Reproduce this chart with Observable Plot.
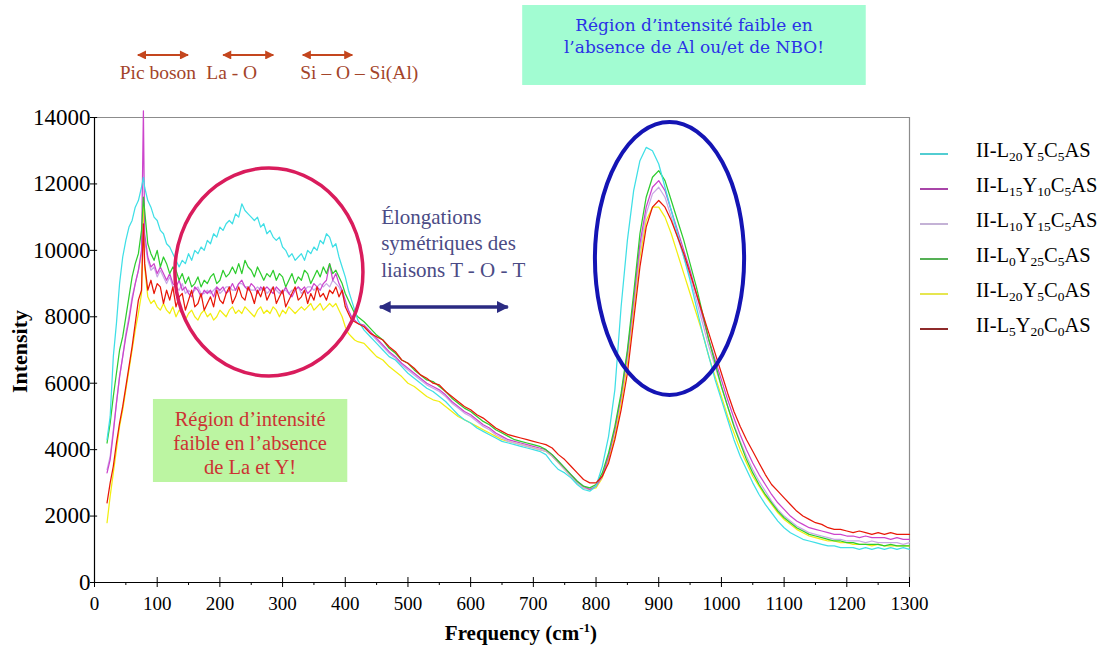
<!DOCTYPE html>
<html><head><meta charset="utf-8">
<script src="https://cdn.jsdelivr.net/npm/d3@7"></script>
<script src="https://cdn.jsdelivr.net/npm/@observablehq/plot@0.6"></script>
<style>
body{margin:0;background:#fff;}
#chart{position:relative;width:1102px;height:646px;overflow:hidden;}
#chart svg text{font-family:"Liberation Serif","Times New Roman",Times,serif;}
#chart svg text.slab{font-family:"DejaVu Serif",serif !important;}
</style></head><body><div id="chart"></div>
<script>
// ---- sampling grid (cm-1) ----
const freqLow = [20,25,30,35,40,45,50,55,60,65,70,75,78,
80,85,90,95,100,105,110,115,120,125,130,135,140,145,150,155,160,165,170,175,180,185,190,195,200,205,210,215,220,225,230,235,240,245,250,255,260,265,270,275,280,285,290,295,300,305,310,315,320,325,330,335,340,345,350,355,360,365,370,375,380,385,390,395,400,405,410,415,420];
const freqHigh = [430,440,450,460,470,480,490,500,510,520,530,540,550,560,570,580,590,600,610,620,630,640,650,660,670,680,690,700,710,720,730,740,750,760,770,780,790,800,810,820,830,840,850,860,870,880,890,900,910,920,930,940,950,960,970,980,990,1000,1010,1020,1030,1040,1050,1060,1070,1080,1090,1100,1110,1120,1130,1140,1150,1160,1170,1180,1190,1200,1210,1220,1230,1240,1250,1260,1270,1280,1290,1300];

// ---- II-L20Y5C5AS (cyan) ----
const cyanLow = [4300,5000,6800,7800,9000,9800,10300,10700,10900,11300,11500,11900,12200,
11900,11500,11300,11000,10900,10600,10500,10200,10100,9900,
9700,9500,9700,9600,9900,9700,10000,9900,10100,10000,
10300,10200,10500,10400,10700,10600,10800,10900,10800,11100,
11000,11400,11200,11100,11000,10900,11000,10700,10800,10500,
10600,10400,10300,10400,10100,10000,9800,9900,9700,9800,
9900,9700,10000,9900,10100,10000,10300,10200,10500,10400,
10100,10200,9800,9500,9200,8800,8500,8200,7900];
const cyanHigh = [7600,7400,7200,7000,6800,6700,6500,6300,6150,6000,
5850,5750,5600,5450,5250,5050,4900,4800,4650,4550,
4450,4350,4250,4200,4150,4100,4050,4000,3950,3850,
3600,3400,3300,3150,2950,2800,2750,2900,3500,4400,
5800,8300,10300,11800,12700,13100,13000,12600,11900,11200,
10500,9800,9100,8300,7500,6800,6100,5500,4900,4300,
3800,3400,3000,2650,2350,2100,1850,1650,1500,1400,
1300,1250,1200,1150,1100,1100,1050,1050,1050,1000,
1050,1000,1050,1000,1050,1000,1050,1000];

// ---- II-L15Y10C5AS (magenta) ----
const magentaLow = [3300,3700,4500,5400,6200,6800,7400,7900,8500,9000,9400,10000,14200,
10500,9800,9500,9600,9300,9500,9300,9100,9300,9000,
8900,9100,8800,8900,8700,8600,8900,8800,8600,8800,
8700,8800,8600,8900,8800,8900,8700,8800,9000,8800,
9000,9100,8900,8800,9000,8900,8700,8900,8800,8900,
8800,8700,8900,8800,8700,8900,8700,8600,8800,8900,
8800,8900,8700,8800,9000,8900,8800,9000,9100,9600,
9100,9300,9000,8800,8500,8200,8000,7900,7800];
const magentaHigh = [7750,7550,7350,7150,6950,6800,6600,6450,6300,6150,
6000,5900,5800,5650,5450,5300,5150,5050,4900,4750,
4650,4500,4400,4300,4250,4200,4150,4100,4050,4000,
3850,3650,3450,3250,3050,2900,2800,2900,3200,3800,
4600,5600,6900,8500,10200,11300,11900,12100,11800,11200,
10600,10000,9400,8700,8000,7300,6700,6100,5500,4950,
4450,4000,3600,3250,2950,2650,2400,2200,2000,1850,
1750,1650,1600,1550,1500,1450,1450,1400,1400,1350,
1400,1350,1350,1350,1300,1350,1300,1300];

// ---- II-L10Y15C5AS (lavender) ----
const lavenderLow = [3400,3800,4600,5400,6200,6800,7500,8000,8600,9000,9400,9900,10800,
10300,9700,9400,9500,9200,9400,9200,9000,9200,8900,
8900,8800,9000,8700,8800,8700,8800,8900,8700,8700,
8800,8700,8800,8900,8700,8800,8900,8900,8800,8800,
9000,9000,8900,8900,8800,8800,8900,8800,8900,8700,
8800,8900,8800,8700,8800,8800,8700,8800,8800,8900,
8700,8800,8900,8900,8800,8900,9000,8900,9000,8900,
9100,9000,8900,8700,8400,8200,8000,7900,7800];
const lavenderHigh = [7700,7500,7300,7100,6900,6750,6550,6400,6250,6100,
5950,5850,5750,5600,5400,5250,5100,5000,4850,4700,
4600,4450,4350,4250,4200,4150,4100,4050,4000,3950,
3800,3600,3400,3200,3000,2850,2800,2900,3200,3800,
4600,5600,6800,8400,10000,11100,11700,11900,11600,11000,
10400,9800,9200,8500,7800,7100,6500,5900,5300,4750,
4250,3800,3400,3050,2750,2450,2200,2000,1850,1700,
1600,1500,1450,1400,1350,1300,1300,1250,1250,1250,
1200,1250,1200,1200,1200,1200,1150,1200];

// ---- II-L0Y25C5AS (green) ----
const greenLow = [4200,4800,5600,6300,7000,7400,8000,8600,9200,9600,9900,10600,11600,
11200,10200,9900,9700,10000,9500,9800,9600,9300,9500,
9400,9100,9300,9000,9200,8900,9000,9200,8900,9100,
9000,9200,9300,9000,9100,9400,9200,9300,9500,9300,
9600,9300,9700,9500,9400,9200,9500,9300,9100,9300,
9200,9400,9100,9300,9200,8900,9100,9300,9000,9200,
9100,9400,9300,9000,9200,9400,9200,9500,9300,9600,
9300,9400,9200,9000,8700,8500,8300,8100,8000];
const greenHigh = [7850,7650,7450,7300,7050,6900,6700,6600,6400,6250,
6100,6050,5900,5750,5550,5400,5250,5150,5000,4850,
4750,4600,4500,4400,4300,4250,4200,4150,4100,4000,
3850,3650,3450,3250,3050,2900,2850,2950,3300,3900,
4700,5700,7000,8700,10500,11600,12200,12400,12100,11500,
10900,10300,9600,8900,8100,7300,6600,5900,5300,4700,
4200,3700,3300,2950,2650,2400,2150,1950,1800,1650,
1550,1450,1400,1350,1300,1250,1250,1200,1200,1150,
1150,1150,1150,1100,1150,1100,1100,1100];

// ---- II-L20Y5C0AS (yellow) ----
const yellowLow = [1800,2600,3300,4000,4700,5200,5800,6400,7000,7600,8100,8700,11400,
9500,8600,8400,8500,8300,8200,8400,8200,8100,8300,
8000,8200,8100,7900,8100,8200,8000,7900,8100,8200,
8000,8100,7900,8000,8200,8100,8000,8200,8300,8100,
8200,8100,8300,8200,8100,8000,8200,8300,8100,8200,
8100,8300,8200,8000,8200,8100,8300,8200,8100,8200,
8300,8200,8300,8400,8200,8300,8400,8200,8300,8400,
8300,8400,8200,8000,7700,7500,7400,7300,7250];
const yellowHigh = [7200,7000,6800,6700,6500,6350,6200,6000,5900,5750,
5600,5500,5450,5300,5150,5000,4900,4800,4700,4600,
4500,4400,4300,4250,4200,4150,4100,4050,4000,3950,
3800,3600,3400,3200,3000,2850,2800,2850,3150,3700,
4400,5400,6600,8200,9800,10900,11300,11300,11000,10500,
9900,9300,8700,8100,7500,6800,6200,5600,5000,4500,
4000,3600,3200,2900,2600,2350,2100,1900,1750,1600,
1500,1400,1350,1300,1250,1250,1200,1200,1150,1150,
1150,1100,1150,1100,1100,1100,1100,1100];

// ---- II-L5Y20C0AS (red) ----
const redLow = [2400,3000,3500,4200,4800,5300,5900,6500,7100,7800,8500,8800,10800,
9600,8800,9100,8700,9000,8900,8400,8800,8500,8900,
8300,8600,8700,8200,8500,8800,8300,8400,8700,8200,
8400,8600,8300,8800,8500,8400,8700,8900,8400,8600,
8900,8600,8500,8900,8700,8400,8800,8600,8900,8500,
8700,8900,8400,8600,8800,8300,8500,8700,8900,8500,
8600,8800,8400,8700,8500,8900,8600,8700,8500,8800,
8700,8900,8600,8800,8300,8100,7900,7850,7800];
const redHigh = [7700,7500,7400,7300,7100,6950,6700,6600,6450,6250,
6150,6000,5950,5750,5600,5450,5300,5200,5050,4950,
4800,4650,4550,4450,4400,4350,4300,4250,4200,4150,
4050,3850,3700,3500,3300,3100,3000,3000,3200,3600,
4300,5200,6300,7900,9500,10700,11300,11500,11300,10900,
10400,9900,9300,8700,8100,7500,6900,6300,5700,5150,
4700,4300,3950,3600,3250,2950,2750,2550,2350,2150,
2000,1900,1800,1750,1650,1600,1600,1550,1500,1550,
1500,1450,1500,1450,1500,1450,1450,1450];

// ---- ticks ----
const yTicks = [0,2000,4000,6000,8000,10000,12000,14000];
const xTicks = [0,100,200,300,400,500,600,700,800,900,1000,1100,1200,1300];
const xMinor = [50,150,250,350,450,550,650,750,850,950,1050,1150,1250];

// ---- legend (label parts: even = normal, odd = subscript) ----
const legendNames = ["cyan","magenta","lavender","green","yellow","red"];
const legendParts = [
  ["II-L","20","Y","5","C","5","AS"],
  ["II-L","15","Y","10","C","5","AS"],
  ["II-L","10","Y","15","C","5","AS"],
  ["II-L","0","Y","25","C","5","AS"],
  ["II-L","20","Y","5","C","0","AS"],
  ["II-L","5","Y","20","C","0","AS"]
];
const colors = {cyan:"#3fdfe6", magenta:"#cc44cc", lavender:"#c9a9e6", green:"#2ecc2e", yellow:"#f2ee10", red:"#e81808"};
const legendColors = {cyan:"#52cdd2", magenta:"#a845a8", lavender:"#c4b2d6", green:"#55b055", yellow:"#e6e650", red:"#8e2a2a"};
const drawOrder = ["yellow","lavender","magenta","green","cyan","red"];

const dataLow = {cyan:cyanLow, magenta:magentaLow, lavender:lavenderLow, green:greenLow, yellow:yellowLow, red:redLow};
const dataHigh = {cyan:cyanHigh, magenta:magentaHigh, lavender:lavenderHigh, green:greenHigh, yellow:yellowHigh, red:redHigh};

function table(name){
  const rows = [];
  freqLow.forEach((f,i)=>{ if (dataLow[name][i] != null) rows.push({f, v:dataLow[name][i]}); });
  freqHigh.forEach((f,i)=>{ if (dataHigh[name][i] != null) rows.push({f, v:dataHigh[name][i]}); });
  return rows;
}

const serif = "Liberation Serif, Times New Roman, Times, serif";
const W = 1102, H = 646;

const plot = Plot.plot({
  width: W, height: H,
  marginLeft: 94, marginRight: 193, marginTop: 117, marginBottom: 64,
  x: {domain:[0,1300], label:null},
  y: {domain:[0,14000], label:null},
  style: {fontFamily: serif, background:"#fff", color:"#000", overflow:"visible"},
  marks: [
    Plot.ruleY([14000], {stroke:"#8c8c8c", strokeWidth:1.2}),
    Plot.ruleX([1300], {stroke:"#8c8c8c", strokeWidth:1.2}),
    Plot.axisY({ticks:yTicks, tickSize:4, tickPadding:0, fontSize:23, tickFormat:d3.format("d"), label:null}),
    Plot.axisX({ticks:xTicks, tickSize:5, tickPadding:9, fontSize:19, tickFormat:d3.format("d"), label:null}),
    Plot.axisX({ticks:xMinor, tickSize:3, tickFormat:()=>"", label:null}),
    Plot.ruleX(xTicks, {y1:0, y2:150, stroke:"#000"}),
    Plot.ruleY(yTicks, {x1:0, x2:5, stroke:"#000"}),
    ...drawOrder.map(n => Plot.line(table(n), {x:"f", y:"v", stroke:colors[n], strokeWidth:1.25})),
    Plot.ruleX([0], {stroke:"#000", strokeWidth:1.2}),
    Plot.ruleY([0], {stroke:"#000", strokeWidth:1.2})
  ]
});
document.getElementById("chart").appendChild(plot);

// ---- annotations, in data units mapped through the plot scales ----
const sx = plot.scale("x"), sy = plot.scale("y");
const X = v => sx.apply(v), Y = v => sy.apply(v);
const svg = d3.select(plot);
const defs = svg.append("defs");
function marker(id, color, w, h){
  defs.append("marker").attr("id", id).attr("viewBox","0 0 10 10").attr("refX",9).attr("refY",5)
    .attr("markerWidth", w).attr("markerHeight", h).attr("markerUnits","userSpaceOnUse")
    .attr("orient","auto-start-reverse")
    .append("path").attr("d","M0,0 L10,5 L0,10 z").attr("fill", color);
}
marker("mBrown", "#c4461e", 11, 9);
marker("mNavy", "#2b2b82", 14, 12);

const g = svg.append("g").attr("text-anchor","start");

// top labels with arrows
const topLabels = [{t:"Pic boson", x:41}, {t:"La - O", x:179}, {t:"Si – O – Si(Al)", x:329}];
const topArrows = [[70,150],[206,286],[333,412]];
const topLabelY = 15355, topArrowY = 15867;
topLabels.forEach(d => g.append("text").attr("x", X(d.x)).attr("y", Y(topLabelY)).attr("dy","0.35em")
  .attr("text-anchor","start").attr("font-size", 19.5).attr("fill","#a3442a").text(d.t));
topArrows.forEach(([a,b]) => g.append("line").attr("x1", X(a)).attr("x2", X(b)).attr("y1", Y(topArrowY)).attr("y2", Y(topArrowY))
  .attr("stroke","#c4461e").attr("stroke-width",2).attr("marker-start","url(#mBrown)").attr("marker-end","url(#mBrown)"));

// cyan box
const cyanBox = {x1:683, x2:1231, y1:14964, y2:17372};
const cyanLines = ["Région d’intensité faible en", "l’absence de Al ou/et de NBO!"];
const cyanLineY = [16770, 16108];
g.append("rect").attr("x", X(cyanBox.x1)).attr("y", Y(cyanBox.y2)).attr("width", X(cyanBox.x2)-X(cyanBox.x1))
  .attr("height", Y(cyanBox.y1)-Y(cyanBox.y2)).attr("fill","#a2fcd2");
cyanLines.forEach((t,i) => g.append("text").attr("class","slab").style("font-family","'DejaVu Serif', serif")
  .attr("x", X(957)).attr("y", Y(cyanLineY[i])).attr("dy","0.35em")
  .attr("text-anchor","middle").attr("font-size",17).attr("fill","#2a32e6").text(t));

// pink circle
const pink = {cx:279, cy:9333, rx:150, ry:3131};
g.append("ellipse").attr("cx", X(pink.cx)).attr("cy", Y(pink.cy)).attr("rx", X(pink.cx+pink.rx)-X(pink.cx))
  .attr("ry", Y(pink.cy-pink.ry)-Y(pink.cy)).attr("fill","none").attr("stroke","#d91c5c").attr("stroke-width",3.5);

// blue ellipse
const blue = {cx:918, cy:9740, rx:119, ry:4110};
g.append("ellipse").attr("cx", X(blue.cx)).attr("cy", Y(blue.cy)).attr("rx", X(blue.cx+blue.rx)-X(blue.cx))
  .attr("ry", Y(blue.cy-blue.ry)-Y(blue.cy)).attr("fill","none").attr("stroke","#1414b4").attr("stroke-width",4);

// navy text + arrow
const navyLines = ["Élongations", "symétriques des", "liaisons T - O - T"];
const navyY = [10990, 10206, 9394];
navyLines.forEach((t,i) => g.append("text").attr("x", X(458)).attr("y", Y(navyY[i])).attr("dy","0.35em")
  .attr("text-anchor","start").attr("font-size", 21).attr("fill","#4b4b85").text(t));
g.append("line").attr("x1", X(456)).attr("x2", X(660)).attr("y1", Y(8280)).attr("y2", Y(8280))
  .attr("stroke","#2b2b82").attr("stroke-width",3.5).attr("marker-start","url(#mNavy)").attr("marker-end","url(#mNavy)");

// green box
const greenBox = {x1:94, x2:404, y1:3011, y2:5510};
const greenLines = ["Région d’intensité", "faible en l’absence", "de La et Y!"];
const greenY = [4908, 4185, 3462];
g.append("rect").attr("x", X(greenBox.x1)).attr("y", Y(greenBox.y2)).attr("width", X(greenBox.x2)-X(greenBox.x1))
  .attr("height", Y(greenBox.y1)-Y(greenBox.y2)).attr("fill","#bcf5a2");
greenLines.forEach((t,i) => g.append("text").attr("x", X(249)).attr("y", Y(greenY[i])).attr("dy","0.35em")
  .attr("text-anchor","middle").attr("font-size", 20.5).attr("fill","#cc3333").text(t));

// axis titles
g.append("text").attr("transform", `translate(27,${Y(7000)+2}) rotate(-90)`).attr("text-anchor","middle")
  .attr("font-weight","bold").attr("font-size",22).attr("fill","#000").text("Intensity");
const xt = g.append("text").attr("x", X(681)).attr("y", 640).attr("text-anchor","middle")
  .attr("font-weight","bold").attr("font-size",21).attr("fill","#000");
xt.append("tspan").text("Frequency (cm");
xt.append("tspan").attr("dy",-8).attr("font-size",13).text("-1");
xt.append("tspan").attr("dy",8).text(")");

// legend
const legX = X(1300) + 11, legTop = Y(14000) + 33, legStep = 35;
legendNames.forEach((n,i) => {
  const yy = legTop + i*legStep;
  g.append("line").attr("x1", legX).attr("x2", legX+28).attr("y1", yy+4).attr("y2", yy+4)
    .attr("stroke", legendColors[n]).attr("stroke-width", 2);
  const t = g.append("text").attr("x", legX+56).attr("y", yy+7).attr("text-anchor","start")
    .attr("font-size", 20.5).attr("fill","#000");
  legendParts[i].forEach((p,j) => {
    const sp = t.append("tspan").text(p);
    if (j % 2 === 1) sp.attr("font-size", 13.5).attr("dy", 4);
    else if (j > 0) sp.attr("dy", -4);
  });
});
</script>
</body></html>
